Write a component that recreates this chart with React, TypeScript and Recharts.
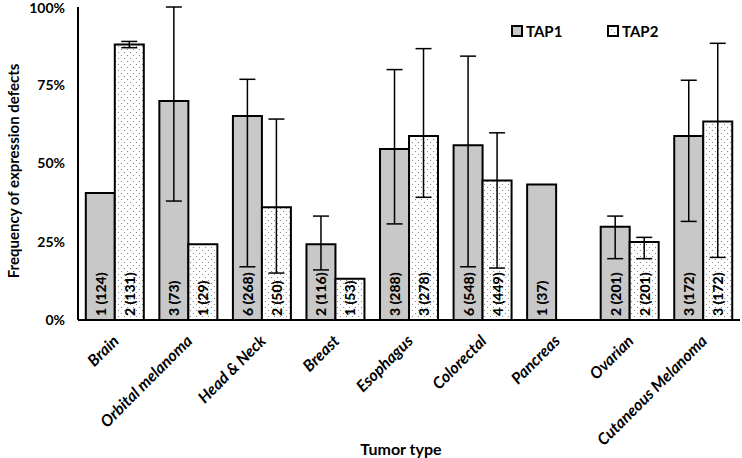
import { BarChart, Bar, XAxis, YAxis, ErrorBar, LabelList, Legend } from "recharts";

const categories = ["Brain", "Orbital melanoma", "Head & Neck", "Breast", "Esophagus", "Colorectal", "Pancreas", "Ovarian", "Cutaneous Melanoma"];
const tap1 = [40.6, 70, 65.2, 24.2, 54.6, 55.8, 43.3, 29.8, 58.8];
const tap2 = [88, 24.2, 36, 13.2, 58.8, 44.6, null, 24.9, 63.4];
// error bars as [minus, plus]
const tap1Err = [null, [32, 30], [48.2, 11.7], [8.2, 9], [23.9, 25.4], [38.8, 28.5], null, [10.2, 3.4], [27.3, 17.8]];
const tap2Err = [[1, 1], null, [21, 28.2], null, [19.6, 27.9], [28, 15.2], null, [5.3, 1.5], [43.4, 25]];
const tap1Labels = ["1 (124)", "3 (73)", "6 (268)", "2 (116)", "3 (288)", "6 (548)", "1 (37)", "2 (201)", "3 (172)"];
const tap2Labels = ["2 (131)", "1 (29)", "2 (50)", "1 (53)", "3 (278)", "4 (449)", null, "2 (201)", "3 (172)"];
const yTicks = [0, 25, 50, 75, 100];

const data = categories.map((name, i) => ({
  name,
  tap1: tap1[i],
  tap2: tap2[i],
  tap1Err: tap1Err[i],
  tap2Err: tap2Err[i],
  tap1Label: tap1Labels[i],
  tap2Label: tap2Labels[i],
}));

const font = "Lato, 'Open Sans', sans-serif";

const XTick = ({ x, y, payload }: any) => (
  <text
    transform={`translate(${x + 5},${y + 14}) rotate(-45)`}
    textAnchor="end"
    fontFamily={font}
    fontSize={16}
    fontWeight="bold"
    fontStyle="italic"
    fill="#000"
  >
    {payload.value}
  </text>
);

const BarLabel = ({ x, y, width, height, value }: any) => {
  if (value == null) return null;
  const cx = x + width / 2;
  const bottom = y + height - 4;
  return (
    <text
      transform={`translate(${cx},${bottom}) rotate(-90)`}
      textAnchor="start"
      dominantBaseline="central"
      fontFamily={font}
      fontSize={14}
      fontWeight={900}
      fill="#000"
    >
      {value}
    </text>
  );
};

const LegendBox = () => (
  <div style={{ display: "flex", fontFamily: font, fontWeight: "bold", fontSize: 15, color: "#000" }}>
    {[
      { name: "TAP1", fill: "#c8c8c8" },
      { name: "TAP2", fill: "url(#dots)" },
    ].map((item) => (
      <div key={item.name} style={{ display: "flex", alignItems: "center", width: 96 }}>
        <svg width={12} height={12} style={{ marginRight: 3 }}>
          <rect x={1} y={1} width={10} height={10} fill={item.fill} stroke="#000" strokeWidth={2} />
        </svg>
        <span>{item.name}</span>
      </div>
    ))}
  </div>
);

export default function App() {
  return (
    <div style={{ position: "absolute", left: 0, top: 0, background: "#fff" }}>
      <BarChart width={742} height={458} data={data} margin={{ top: 7, right: 2, left: 0, bottom: 0 }} barCategoryGap="10.6%" barGap={0}>
        <defs>
          <pattern id="dots" width={6} height={6} patternUnits="userSpaceOnUse">
            <rect width={6} height={6} fill="#fff" />
            <circle cx={1.5} cy={1.5} r={0.6} fill="#777" />
            <circle cx={4.5} cy={4.5} r={0.6} fill="#777" />
          </pattern>
        </defs>
        <XAxis
          dataKey="name"
          interval={0}
          tickLine={false}
          axisLine={{ stroke: "#000", strokeWidth: 2 }}
          height={138}
          tick={<XTick />}
          label={{
            content: () => (
              <text x={401} y={448} textAnchor="middle" dominantBaseline="central" fontFamily={font} fontSize={16} fontWeight="bold" fill="#000">
                Tumor type
              </text>
            ),
          }}
        />
        <YAxis
          width={78}
          domain={[0, 100]}
          ticks={yTicks}
          tickFormatter={(v) => `${v}%`}
          tickLine={false}
          tickMargin={7}
          axisLine={{ stroke: "#000", strokeWidth: 2 }}
          tick={{ fill: "#000", fontSize: 14, fontWeight: "bold", fontFamily: font }}
          label={{
            content: () => (
              <text
                transform="translate(13,171) rotate(-90)"
                textAnchor="middle"
                dominantBaseline="central"
                fontFamily={font}
                fontSize={15}
                fontWeight="bold"
                fill="#000"
              >
                Frequency of expression defects
              </text>
            ),
          }}
        />
        <Legend
          layout="vertical"
          align="center"
          verticalAlign="middle"
          content={<LegendBox />}
          wrapperStyle={{ top: 22, left: 511, width: 200 }}
        />
        <Bar dataKey="tap1" name="TAP1" fill="#c8c8c8" stroke="#000" strokeWidth={2} isAnimationActive={false}>
          <ErrorBar dataKey="tap1Err" width={8} stroke="#000" strokeWidth={1.5} />
          <LabelList dataKey="tap1Label" content={<BarLabel />} />
        </Bar>
        <Bar dataKey="tap2" name="TAP2" fill="url(#dots)" stroke="#000" strokeWidth={2} isAnimationActive={false}>
          <ErrorBar dataKey="tap2Err" width={8} stroke="#000" strokeWidth={1.5} />
          <LabelList dataKey="tap2Label" content={<BarLabel />} />
        </Bar>
      </BarChart>
    </div>
  );
}
